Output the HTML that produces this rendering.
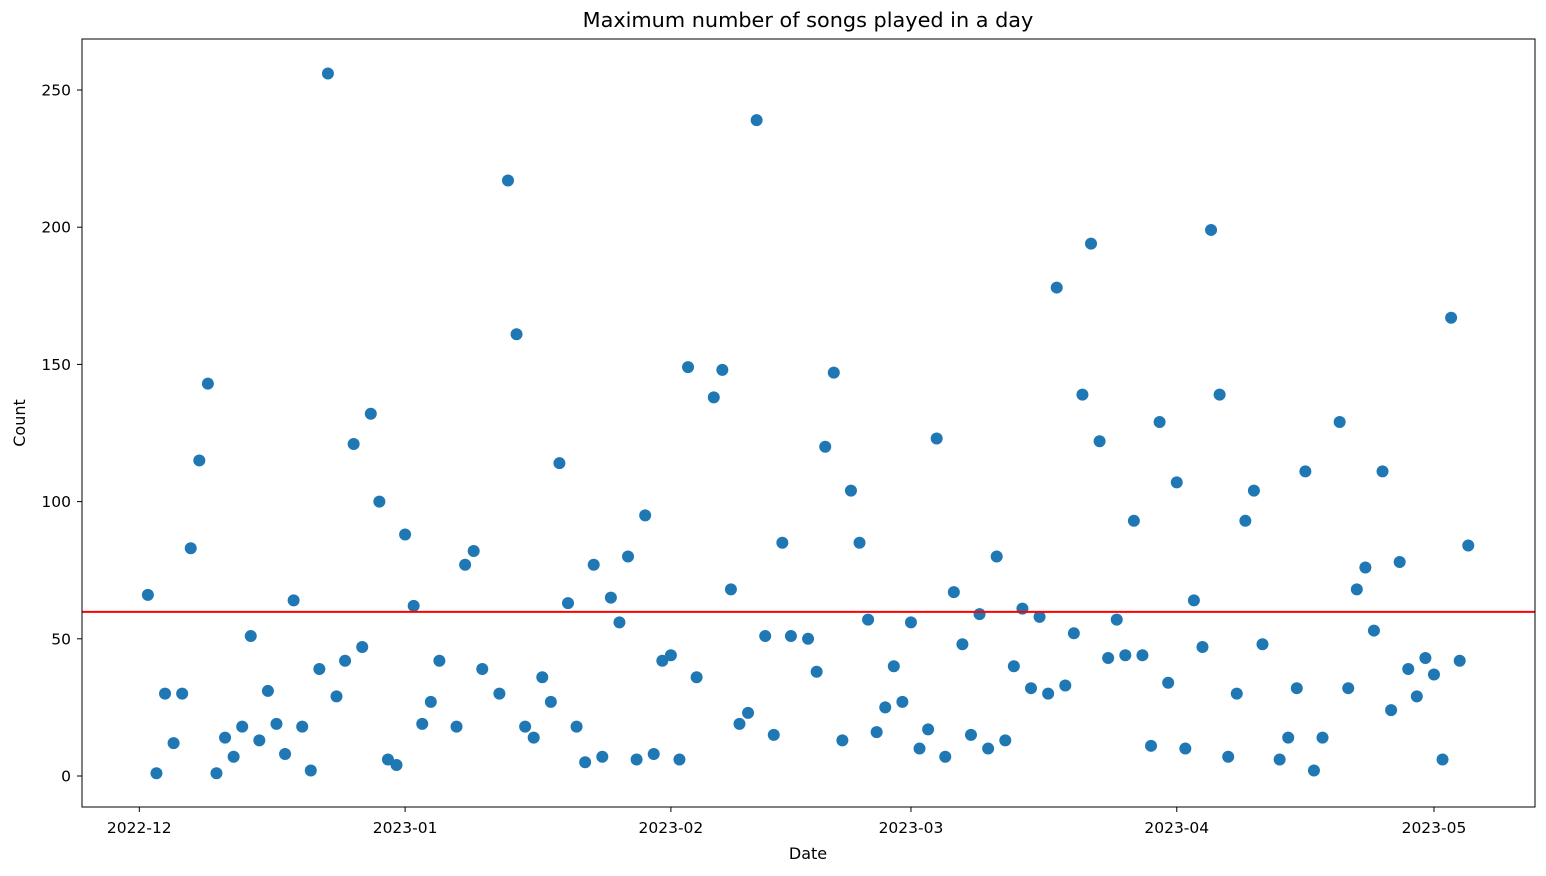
<!DOCTYPE html>
<html><head><meta charset="utf-8"><style>
html,body{margin:0;padding:0;background:#fff;}
svg text{font-family:"DejaVu Sans","Liberation Sans",sans-serif;fill:#000;}
</style></head><body>
<svg id="chart" width="1546" height="871" xmlns="http://www.w3.org/2000/svg">
<text x="808" y="27" font-size="20.8" text-anchor="middle">Maximum number of songs played in a day</text>
<text x="808" y="859" font-size="16" text-anchor="middle">Date</text>
<text transform="translate(25,423) rotate(-90)" font-size="16" text-anchor="middle">Count</text>
<g id="grid"></g>
<g id="points"></g>
<rect x="82" y="39" width="1453" height="768" fill="none" stroke="#000" stroke-width="1"/>
</svg>
<script>
const startDate = "2022-12-01";
const dayOffsets = [1,2,3,4,5,6,7,8,9,10,11,12,13,14,15,16,17,18,19,20,21,22,23,24,25,26,27,28,29,30,31,32,33,34,35,37,38,39,40,42,43,44,45,46,47,48,49,50,51,52,53,54,55,56,57,58,59,60,61,62,63,64,65,67,68,69,70,71,72,73,74,75,76,78,79,80,81,82,83,84,85,86,87,88,89,90,91,92,93,94,95,96,97,98,99,100,101,102,103,104,105,106,107,108,109,110,111,112,113,114,115,116,117,118,119,120,121,122,123,124,125,126,127,128,129,130,131,133,134,135,136,137,138,140,141,142,143,144,145,146,147,148,149,150,151,152,153,154,155];
const counts = [66,1,30,12,30,83,115,143,1,14,7,18,51,13,31,19,8,64,18,2,39,256,29,42,121,47,132,100,6,4,88,62,19,27,42,18,77,82,39,30,217,161,18,14,36,27,114,63,18,5,77,7,65,56,80,6,95,8,42,44,6,149,36,138,148,68,19,23,239,51,15,85,51,50,38,120,147,13,104,85,57,16,25,40,27,56,10,17,123,7,67,48,15,59,10,80,13,40,61,32,58,30,178,33,52,139,194,122,43,57,44,93,44,11,129,34,107,10,64,47,199,139,7,30,93,104,48,6,14,32,111,2,14,129,32,68,76,53,111,24,78,39,29,43,37,6,167,42,84];
const meanLine = 59.8;
const xTickLabels = ["2022-12","2023-01","2023-02","2023-03","2023-04","2023-05"];
const xTickDays = [0,31,62,90,121,151];
const yTicks = [0,50,100,150,200,250];

const NS="http://www.w3.org/2000/svg";
const X0=139.3, PXD=8.574, Y0=776, PXU=2.744;
const xs=d=>X0+d*PXD;
const ys=v=>Y0-v*PXU;
const grid=document.getElementById('grid');
const pts=document.getElementById('points');
function mk(tag,attrs,parent){const e=document.createElementNS(NS,tag);for(const k in attrs)e.setAttribute(k,attrs[k]);parent.appendChild(e);return e;}
xTickDays.forEach((d,i)=>{
  const x=xs(d);
  const t=mk('line',{x1:x,x2:x,y1:807,y2:812,stroke:'#000'},grid);
  
  
  const l=mk('text',{x:x,y:833,'font-size':15.5,'text-anchor':'middle'},grid);
  l.textContent=xTickLabels[i];
  
  
});
yTicks.forEach(v=>{
  const y=ys(v);
  const t=mk('line',{x1:77,x2:82,y1:y,y2:y,stroke:'#000'},grid);
  
  
  const l=mk('text',{x:71,y:y+5.5,'font-size':15.5,'text-anchor':'end'},grid);
  l.textContent=v;
  
  
});
counts.forEach((v,i)=>{
  const c=mk('circle',{cx:xs(dayOffsets[i]),cy:ys(v),r:6,fill:'#1f77b4'},pts);
  
  
});
const ml=mk('line',{x1:82,x2:1535,y1:ys(meanLine),y2:ys(meanLine),stroke:'#ff0000','stroke-width':2},pts);


</script>
</body></html>
